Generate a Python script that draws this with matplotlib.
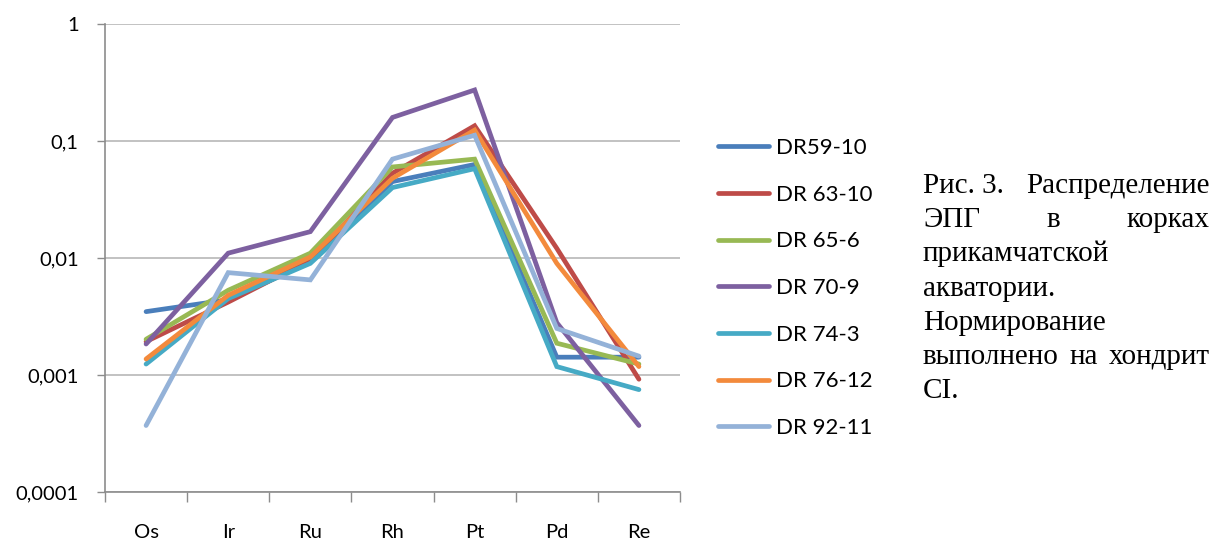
import numpy as np
import matplotlib.pyplot as plt
from matplotlib.ticker import FixedLocator, NullFormatter

# PGE normalised to CI chondrite
elements = ['Os', 'Ir', 'Ru', 'Rh', 'Pt', 'Pd', 'Re']
samples = ['DR59-10', 'DR 63-10', 'DR 65-6', 'DR 70-9', 'DR 74-3', 'DR 76-12', 'DR 92-11']

dr59_10 = [0.00348, 0.0044, 0.0093, 0.045, 0.063, 0.00142, 0.00142]
dr63_10 = [0.00193, 0.0042, 0.0096, 0.053, 0.135, 0.0121, 0.00092]
dr65_6 = [0.00202, 0.0053, 0.0110, 0.060, 0.070, 0.00187, 0.00124]
dr70_9 = [0.00184, 0.0110, 0.0168, 0.159, 0.273, 0.0028, 0.00037]
dr74_3 = [0.00124, 0.0045, 0.0090, 0.040, 0.058, 0.00118, 0.00075]
dr76_12 = [0.00137, 0.0048, 0.0102, 0.048, 0.124, 0.0090, 0.00118]
dr92_11 = [0.00037, 0.0075, 0.0065, 0.070, 0.112, 0.0025, 0.00145]

series = [dr59_10, dr63_10, dr65_6, dr70_9, dr74_3, dr76_12, dr92_11]
colors = ['#4a7ebb', '#be4b48', '#98b954', '#7d60a0', '#46aac5', '#f38a3c', '#94b2d8']

# "Рис. 3." keeps a fixed space (non-breaking)
caption_lines = [
    (['Рис. 3.', 'Распределение'], True),
    (['ЭПГ', 'в', 'корках'], True),
    (['прикамчатской'], False),
    (['акватории.'], False),
    (['Нормирование'], False),
    (['выполнено', 'на', 'хондрит'], True),
    (['CI.'], False),
]

fig = plt.figure(figsize=(12.14, 5.42), dpi=100)
ax = fig.add_axes([105 / 1214, 1 - 492 / 542, 575 / 1214, 468 / 542])

x = np.arange(len(elements))
for vals, name, c in zip(series, samples, colors):
    ax.plot(x, vals, color=c, lw=3.4, solid_capstyle='round',
            solid_joinstyle='miter', label=name)

ax.set_yscale('log')
ax.set_ylim(0.0001, 1)
ax.set_xlim(-0.5, len(elements) - 0.5)
ax.yaxis.set_major_locator(FixedLocator([0.0001, 0.001, 0.01, 0.1, 1]))
ax.yaxis.set_minor_locator(FixedLocator([]))
ax.set_yticklabels(['0,0001', '0,001', '0,01', '0,1', '1'])
ax.grid(axis='y', color='#b8b8b8', lw=1.2)
ax.set_axisbelow(True)

ax.set_xticks(x)
ax.set_xticklabels(elements)
ax.xaxis.set_minor_locator(FixedLocator(np.arange(-0.5, len(elements), 1.0)))
ax.xaxis.set_minor_formatter(NullFormatter())
ax.tick_params(axis='x', which='major', length=0, pad=23, labelsize=14.5)
ax.tick_params(axis='x', which='minor', length=7, color='#8c8c8c', width=1)
ax.tick_params(axis='y', which='major', length=6, color='#8c8c8c', width=1,
               pad=13, labelsize=14.5)
for lab in ax.get_xticklabels() + ax.get_yticklabels():
    lab.set_fontfamily('Lato')

for s in ['top', 'right']:
    ax.spines[s].set_visible(False)
for s in ['left', 'bottom']:
    ax.spines[s].set_color('#8c8c8c')
    ax.spines[s].set_linewidth(1.2)

leg = ax.legend(loc='upper left', bbox_to_anchor=(698 / 1214, 1 - 118 / 542),
                bbox_transform=fig.transFigure, frameon=False,
                prop={'family': 'Lato', 'size': 16}, handlelength=2.3,
                handletextpad=0.3, labelspacing=1.2)
for h in leg.get_lines():
    h.set_linewidth(3.4)

# justified caption, word by word
x0, x1 = 923 / 1214, 1210 / 1214
base0, step = 193, 34.2
font = dict(family='Liberation Serif', size=21)
renderer = fig.canvas.get_renderer()
for i, (words, justify) in enumerate(caption_lines):
    yb = 1 - (base0 + i * step) / 542
    if not justify or len(words) == 1:
        fig.text(x0, yb, ' '.join(words), ha='left', va='baseline', **font)
        continue
    texts = [fig.text(0, yb, w, ha='left', va='baseline', **font) for w in words]
    widths = [t.get_window_extent(renderer).width / 1214 for t in texts]
    gap = (x1 - x0 - sum(widths)) / (len(words) - 1)
    pos = x0
    for t, w in zip(texts, widths):
        t.set_x(pos)
        pos += w + gap

fig.savefig('out.png', dpi=100)
